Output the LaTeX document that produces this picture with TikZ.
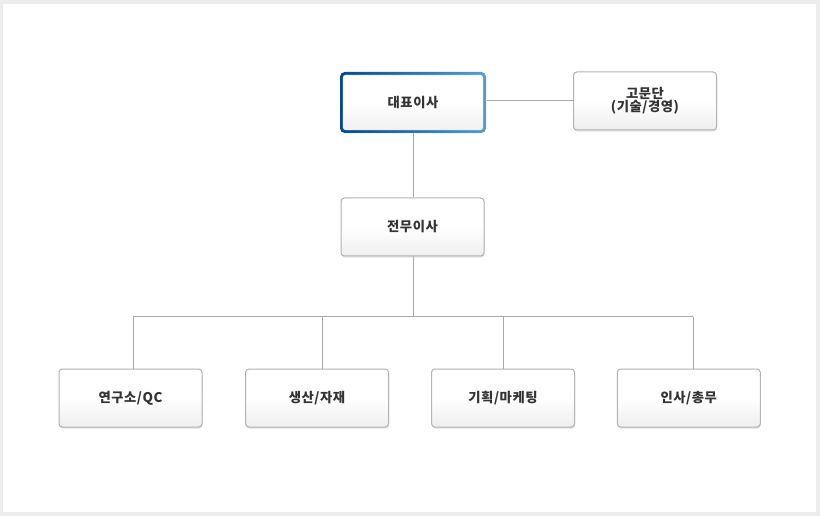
\documentclass[tikz,border=0pt]{standalone}
\usepackage{fontspec}
\setmainfont{Noto Sans CJK KR}[LetterSpace=4]
\usetikzlibrary{shadows}

\definecolor{framegray}{RGB}{236,236,236}
\definecolor{boxline}{RGB}{178,178,178}
\definecolor{linkgray}{RGB}{170,170,170}
\definecolor{txtgray}{RGB}{51,51,51}
\definecolor{ceodark}{RGB}{10,72,138}
\definecolor{ceolight}{RGB}{90,155,208}
\definecolor{boxbottom}{RGB}{238,238,238}

\tikzset{every picture/.style={line width=0.75pt}}
\tikzset{
  orgbox/.style={draw=boxline, line width=0.75pt, rounded corners=2.5pt,
    top color=white, bottom color=boxbottom, middle color=white,
    minimum width=107.25pt, minimum height=43.5pt, align=center,
    text=txtgray, font=\fontsize{10}{12}\selectfont\bfseries,
    drop shadow={opacity=0.22, shadow xshift=0.4pt, shadow yshift=-1.2pt}},
  ceobox/.style={rounded corners=3.5pt, left color=ceodark, right color=ceolight,
    minimum width=109.5pt, minimum height=45.75pt, align=center,
    text=txtgray, font=\fontsize{10}{12}\selectfont\bfseries,
    path picture={\shade[top color=white, bottom color=boxbottom, middle color=white, rounded corners=2pt]
      ([shift={(2.2pt,2.2pt)}]path picture bounding box.south west) rectangle
      ([shift={(-2.2pt,-2.2pt)}]path picture bounding box.north east);}},
  link/.style={draw=linkgray, line width=0.75pt}
}

\begin{document}
\begin{tikzpicture}[x=0.75pt,y=0.75pt,yscale=-1,xscale=1]

% frame
\fill [framegray] (0,0) rectangle (820,516) ;
\fill [white] (3,4) rectangle (816,512) ;

% boxes
\node [ceobox] (ceo) at (413,102.5) {대표이사};
\node [orgbox] (adv) at (645,101) {고문단\\[-2pt](기술/경영)};
\node [orgbox] (exec) at (412.5,227) {전무이사};
\node [orgbox] (lab) at (130.5,398) {연구소/QC};
\node [orgbox] (prod) at (317,398) {생산/자재};
\node [orgbox] (plan) at (503,398) {기획/마케팅};
\node [orgbox] (hr) at (688.75,398) {인사/총무};

% bus
\coordinate (bus) at (413,317) ;
\coordinate (busa) at (133,317) ;
\coordinate (busb) at (322,317) ;
\coordinate (busc) at (503,317) ;
\coordinate (busd) at (693,317) ;

% links
\draw [link] (ceo.east |- adv.west) -- (adv.west) ;
\draw [link] (ceo.south -| bus) -- (exec.north -| bus) ;
\draw [link] (exec.south -| bus) -- (bus) ;
\draw [link] (busa) -- (busd) ;
\draw [link] (busa) -- (lab.north -| busa) ;
\draw [link] (busb) -- (prod.north -| busb) ;
\draw [link] (busc) -- (plan.north -| busc) ;
\draw [link] (busd) -- (hr.north -| busd) ;

\end{tikzpicture}
\end{document}
